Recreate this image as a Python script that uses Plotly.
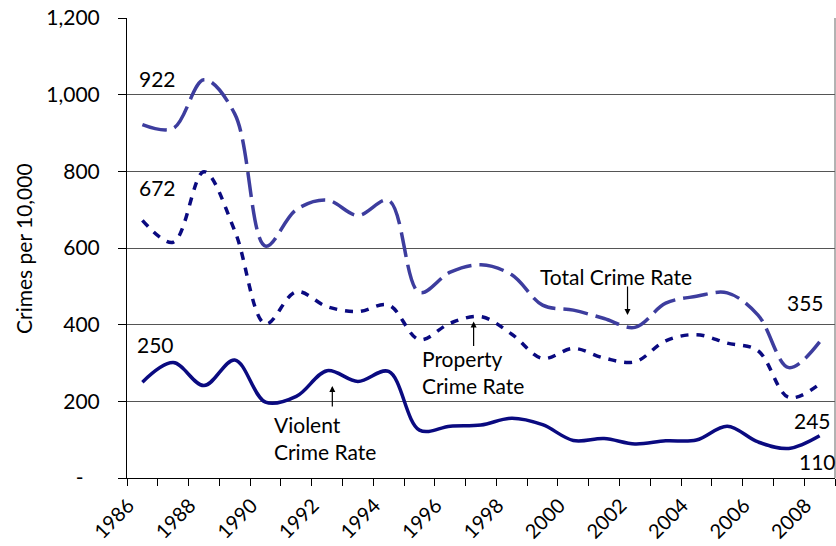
import plotly.graph_objects as go

years = list(range(1986, 2009))
violent = [250, 301, 241, 308, 198, 213, 280, 252, 278, 125, 135, 138, 156, 139, 98, 103, 89, 97, 99, 135, 94, 77, 110]
property_rate = [672, 615, 799, 645, 402, 486, 447, 434, 451, 361, 404, 421, 375, 312, 338, 313, 303, 358, 374, 352, 332, 210, 245]
total = [922, 912, 1039, 950, 605, 700, 725, 685, 724, 484, 537, 556, 530, 451, 438, 416, 393, 456, 474, 483, 425, 288, 355]

y_ticks = [0, 200, 400, 600, 800, 1000, 1200]
y_ticktext = ["-\u00a0\u00a0\u00a0", "200", "400", "600", "800", "1,000", "1,200"]
x_ticks = years[::2]
x_ticktext = [str(y) for y in x_ticks]

FONT = "Lato"
FS = 21

fig = go.Figure()
fig.add_trace(go.Scatter(x=years, y=total, mode="lines", name="Total Crime Rate",
                         line=dict(color="#3d3d9e", width=3.5, dash="25px,8px", shape="spline", smoothing=1)))
fig.add_trace(go.Scatter(x=years, y=property_rate, mode="lines", name="Property Crime Rate",
                         line=dict(color="#0a0a80", width=3.5, dash="8px,8px", shape="spline", smoothing=1)))
fig.add_trace(go.Scatter(x=years, y=violent, mode="lines", name="Violent Crime Rate",
                         line=dict(color="#0a0a80", width=3.5, shape="spline", smoothing=1)))

ann = []
def txt(x, y, t, xanchor="center", yanchor="middle", align="center"):
    ann.append(dict(x=x, y=y, xref="x", yref="y", text=t, showarrow=False,
                    xanchor=xanchor, yanchor=yanchor, align=align,
                    font=dict(family=FONT, size=FS, color="black")))

txt(1986.48, 1043, "922")
txt(1986.5, 758, "672")
txt(1986.43, 348, "250")
txt(2007.55, 458, "355")
txt(2007.78, 150, "245")
txt(2007.93, 44, "110")
txt(2001.39, 526, "Total Crime Rate")
txt(1995.02, 276, "Property<br>Crime Rate", xanchor="left", align="left")
txt(1990.21, 105, "Violent<br>Crime Rate", xanchor="left", align="left")

def arrow(x, y, ay):
    ann.append(dict(x=x, y=y, xref="x", yref="y", text="", showarrow=True,
                    ax=0, ay=ay, arrowhead=2, arrowsize=1, arrowwidth=1.2, arrowcolor="black"))

arrow(2001.76, 425, -30)
arrow(1996.76, 408, 26)
arrow(1992.17, 240, 22)

ann.append(dict(x=-0.147, y=0.5, xref="paper", yref="paper", text="Crimes per 10,000",
                textangle=-90, showarrow=False, xanchor="center", yanchor="middle",
                font=dict(family=FONT, size=FS, color="black")))

fig.update_layout(
    width=836, height=546,
    margin=dict(l=127, r=1, t=18, b=68, autoexpand=False),
    paper_bgcolor="white", plot_bgcolor="white",
    showlegend=False,
    font=dict(family=FONT, size=FS, color="black"),
    annotations=ann,
    shapes=[dict(type="line", xref="paper", yref="paper", x0=1, x1=1, y0=0, y1=1,
                 line=dict(color="#666666", width=1))],
)
fig.update_xaxes(
    range=[1985.5, 2008.5], tickmode="array", tickvals=x_ticks, ticktext=x_ticktext,
    tickangle=-45, ticks="", showgrid=False, zeroline=False, automargin=False,
    showline=True, linecolor="black", linewidth=1,
    tickfont=dict(family=FONT, size=20, color="black"),
    ticklabelstandoff=7, ticklabelshift=-14,
    minor=dict(tick0=1985.5, dtick=1, ticks="outside", ticklen=7, tickcolor="black", tickwidth=1, showgrid=False),
)
fig.update_yaxes(
    range=[0, 1200], tickmode="array", tickvals=y_ticks, ticktext=y_ticktext,
    ticks="outside", ticklen=8, tickcolor="black", automargin=False,
    showgrid=True, gridcolor="#555555", gridwidth=1, zeroline=False,
    showline=True, linecolor="black", linewidth=1,
    tickfont=dict(family=FONT, size=FS, color="black"),
    ticklabelstandoff=14,
)

fig.write_html("out.html", config={"displayModeBar": False},
               post_script="document.body.style.margin='0';document.body.style.overflow='hidden';")
